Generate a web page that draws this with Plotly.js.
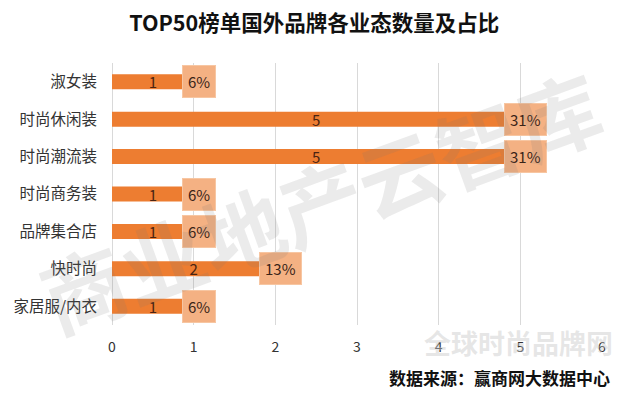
<!DOCTYPE html>
<html>
<head>
<meta charset="utf-8">
<script src="https://cdn.plot.ly/plotly-3.0.1.min.js"></script>
<style>html,body{margin:0;padding:0;background:#fff;}#chart{width:630px;height:396px;}</style>
</head>
<body>
<div id="chart"></div>
<script>
const categories = ['淑女装', '时尚休闲装', '时尚潮流装', '时尚商务装', '品牌集合店', '快时尚', '家居服/内衣'];
const counts = [1, 5, 5, 1, 1, 2, 1];
const shares = ['6%', '31%', '31%', '6%', '6%', '13%', '6%'];
const xTicks = [0, 1, 2, 3, 4, 5, 6];
const titleText = 'TOP50榜单国外品牌各业态数量及占比';
const sourceText = '数据来源：赢商网大数据中心';
const watermark1 = '商业地产云智库';
const watermark2 = '全球时尚品牌网';

const FONT = '"Noto Sans CJK SC", "Noto Sans", sans-serif';

const trace = {
  type: 'bar',
  orientation: 'h',
  y: categories,
  x: counts,
  text: counts.map(String),
  textposition: 'inside',
  insidetextanchor: 'middle',
  constraintext: 'none',
  textangle: 0,
  textfont: {family: FONT, size: 15, color: '#4a2412'},
  marker: {color: '#ED7D31', line: {width: 0}},
  hoverinfo: 'none',
  cliponaxis: false
};

const shareAnnotations = categories.map((c, i) => ({
  x: counts[i], y: c, xref: 'x', yref: 'y',
  text: shares[i], showarrow: false,
  xanchor: 'center', yanchor: 'middle', xshift: 5,
  bgcolor: '#F4B183', borderpad: 5, borderwidth: 1, bordercolor: '#F7C6A2',
  font: {family: FONT, size: 15, color: '#3a2418'}
}));

const layout = {
  width: 630, height: 396,
  margin: {l: 112, r: 28, t: 63, b: 71},
  paper_bgcolor: '#ffffff', plot_bgcolor: '#ffffff',
  showlegend: false,
  bargap: 0.6,
  title: {
    text: '<b>' + titleText + '</b>',
    font: {family: FONT, size: 21.5, color: '#111'},
    x: 260 / 630, xanchor: 'center', xref: 'paper',
    y: 1 - 23 / 396, yanchor: 'middle', yref: 'container'
  },
  xaxis: {
    range: [0, 6], tickvals: xTicks, ticktext: xTicks.map(String),
    showgrid: true, gridcolor: '#d9d9d9', gridwidth: 1,
    zeroline: true, zerolinecolor: '#d9d9d9', zerolinewidth: 1,
    showline: false, ticks: '', ticklabelstandoff: 12,
    tickfont: {family: FONT, size: 14, color: '#333'},
    fixedrange: true
  },
  yaxis: {
    autorange: 'reversed', type: 'category',
    showgrid: false, zeroline: false, showline: false, ticks: '',
    ticklabelstandoff: 14,
    tickfont: {family: FONT, size: 15.5, color: '#333'},
    fixedrange: true
  },
  annotations: shareAnnotations.concat([
    {
      xref: 'paper', yref: 'paper', x: (320 - 112) / 490, y: (325 - 200) / 262,
      text: '<b>' + watermark1 + '</b>', showarrow: false, textangle: -20,
      xanchor: 'center', yanchor: 'middle',
      font: {family: FONT, size: 84, color: 'rgba(120,120,120,0.15)'}
    },
    {
      xref: 'paper', yref: 'paper', x: (518 - 112) / 490, y: (325 - 342) / 262,
      text: '<b>' + watermark2 + '</b>', showarrow: false,
      xanchor: 'center', yanchor: 'middle',
      font: {family: FONT, size: 27, color: 'rgba(200,200,200,0.45)'}
    },
    {
      xref: 'paper', yref: 'paper', x: (612 - 112) / 490, y: (325 - 377) / 262,
      text: '<b>' + sourceText + '</b>', showarrow: false,
      xanchor: 'right', yanchor: 'middle',
      font: {family: FONT, size: 17, color: '#111'}
    }
  ])
};

Plotly.newPlot('chart', [trace], layout, {displayModeBar: false, staticPlot: true});
</script>
</body>
</html>
